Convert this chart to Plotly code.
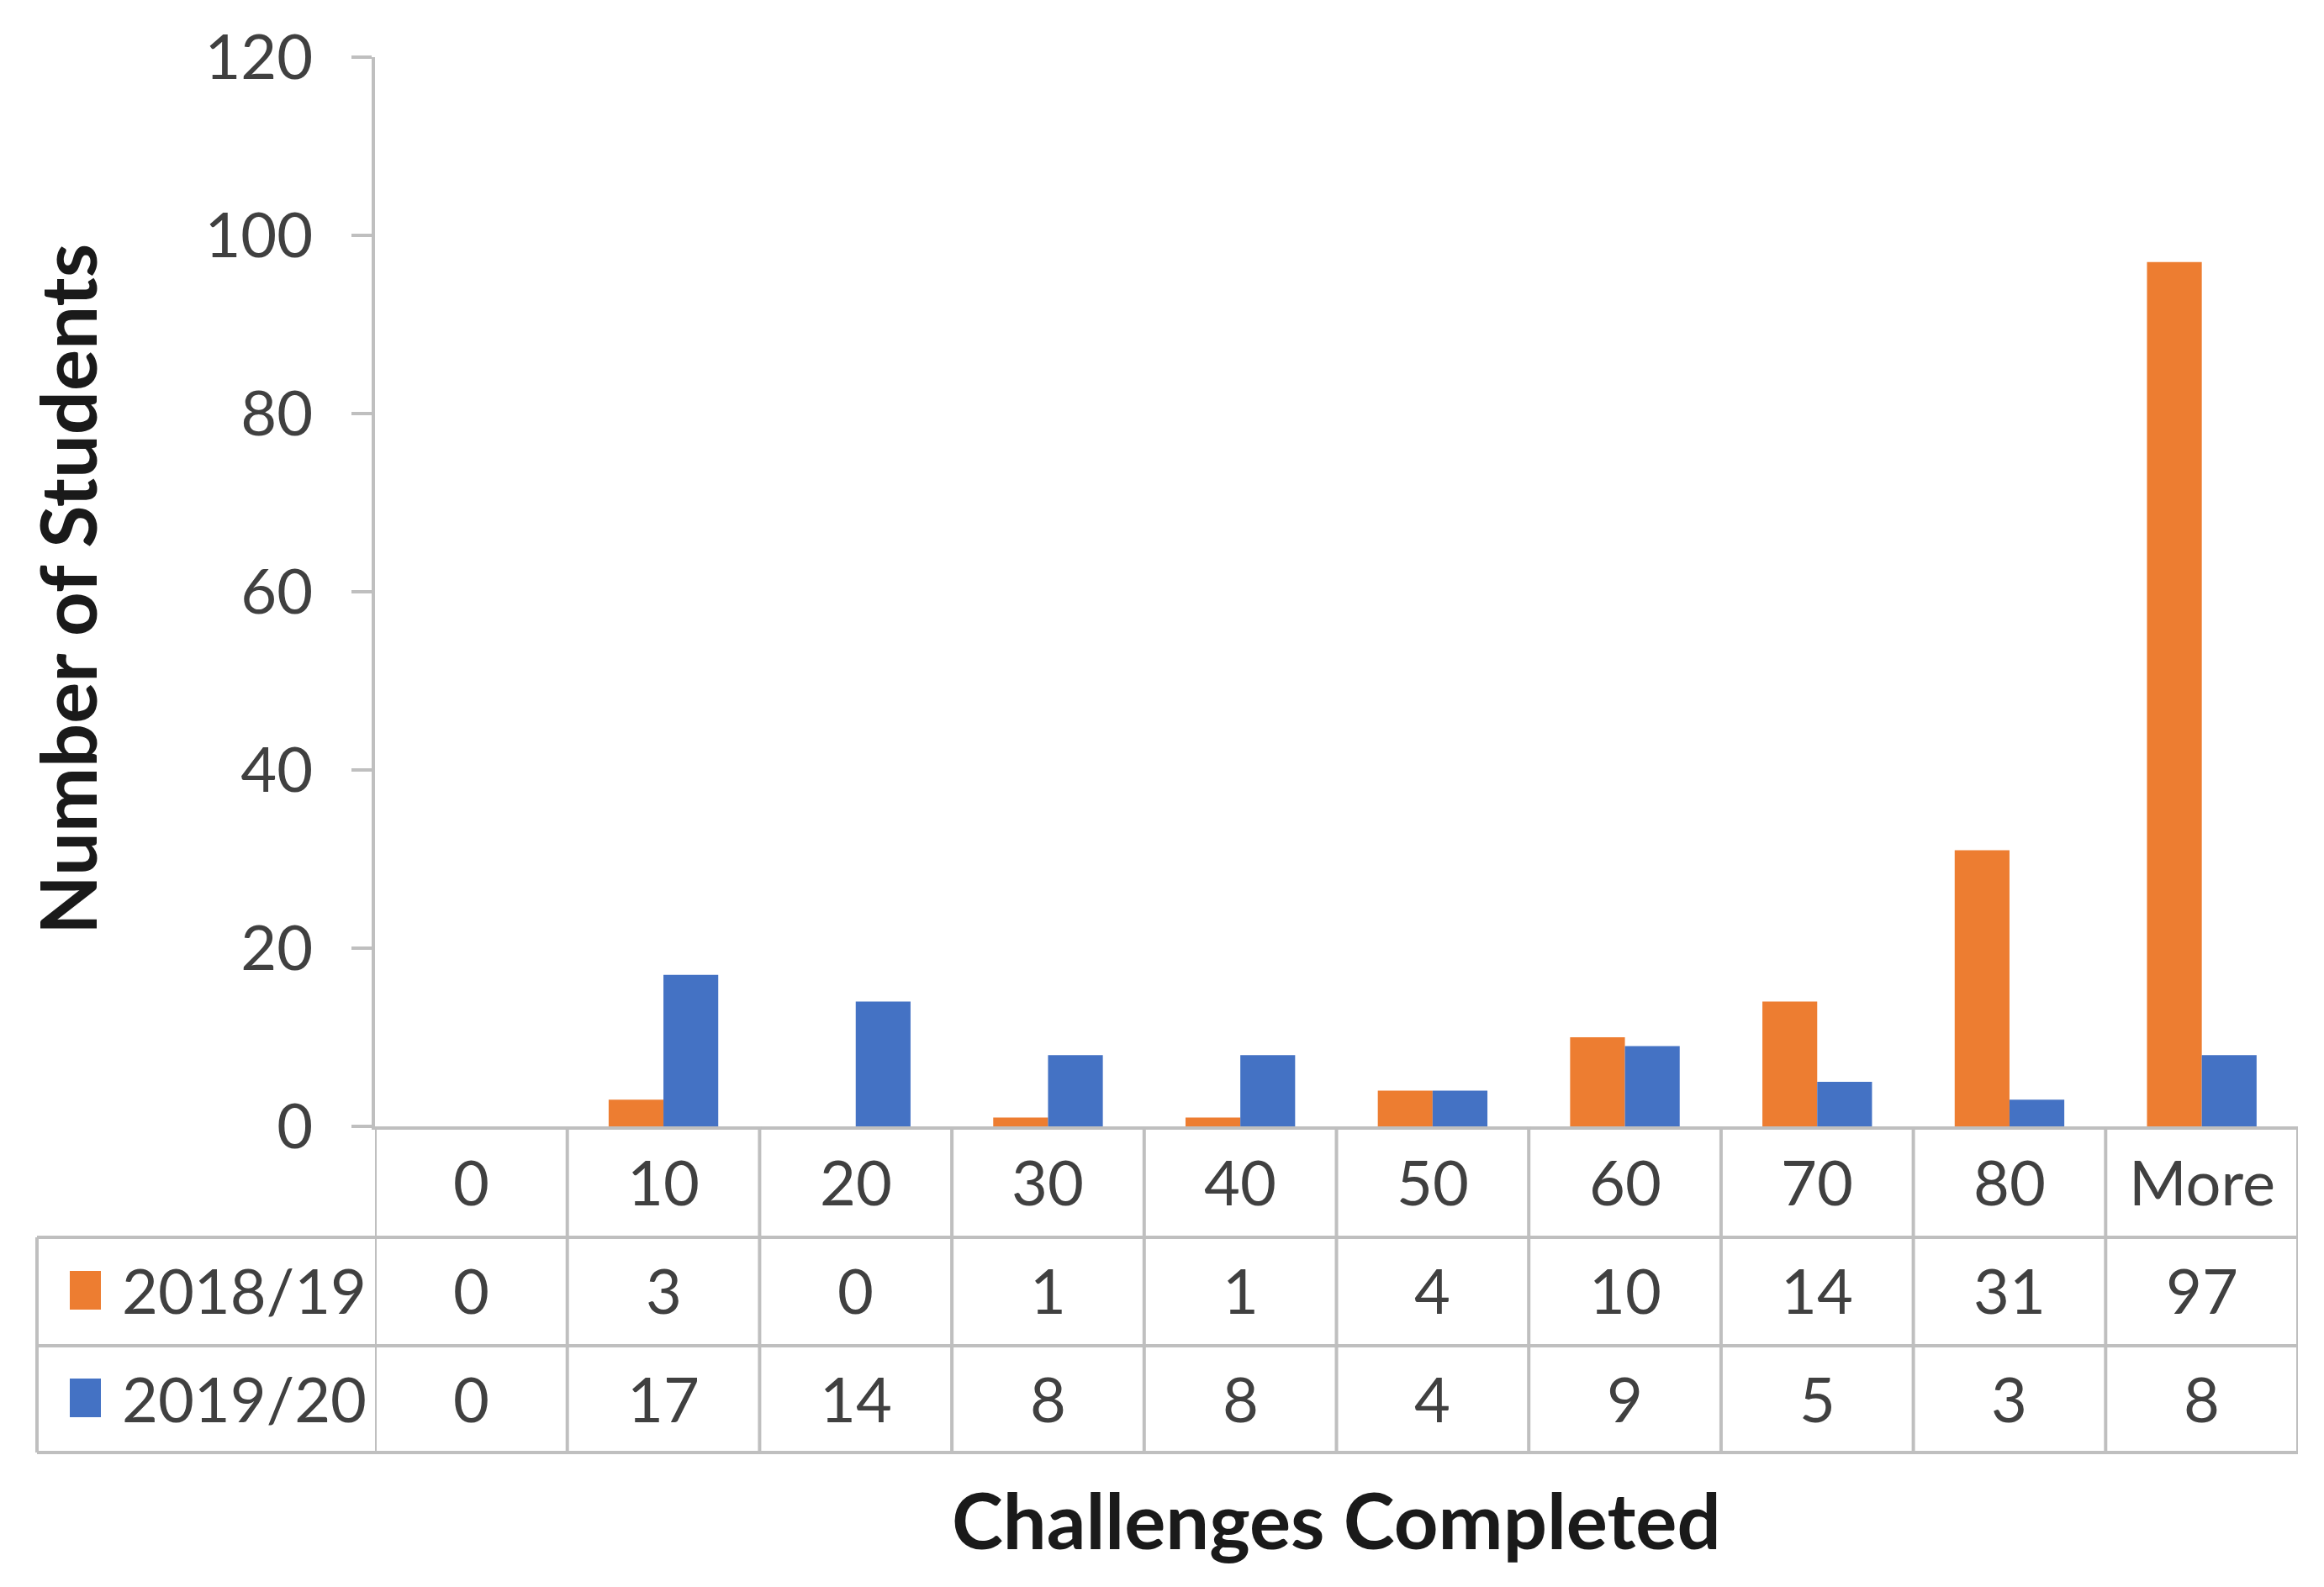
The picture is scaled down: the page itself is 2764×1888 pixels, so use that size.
import plotly.graph_objects as go

categories = ["0", "10", "20", "30", "40", "50", "60", "70", "80", "More"]
series_names = ["2018/19", "2019/20"]
values_1819 = [0, 3, 0, 1, 1, 4, 10, 14, 31, 97]
values_1920 = [0, 17, 14, 8, 8, 4, 9, 5, 3, 8]
y_ticks = [0, 20, 40, 60, 80, 100, 120]
x_title = "Challenges Completed"
y_title = "Number of Students"

colors = ["#ED7D31", "#4472C4"]
OFF = 8  # default html body margin
W, H = 2764 - 2 * OFF, 1888 - 2 * OFF
L, R, T, B = 446 - OFF, 31 - OFF, 68 - OFF, 548 - OFF
PW, PH = W - L - R, H - T - B
FONT = "Lato"
TXT = "#404040"
GRID = "#BFBFBF"
FS = 74


def py(p):  # absolute page pixel y -> paper y
    return (T + PH - (p - OFF)) / PH


def px(p):  # absolute page pixel x -> paper x
    return ((p - OFF) - L) / PW


fig = go.Figure()
for name, vals, c in zip(series_names, [values_1819, values_1920], colors):
    fig.add_trace(go.Bar(x=categories, y=vals, name=name, marker_color=c,
                         marker_line_width=0, showlegend=False))

# table geometry (absolute pixels)
row_tops = [1340, 1472, 1601]
row_bottom = 1728
table_left = 44
row_centers = [1405, 1535, 1663]

shapes = []
line = dict(color=GRID, width=4)
for i in range(len(categories) + 1):
    shapes.append(dict(type="line", xref="x", yref="paper", x0=i - 0.5, x1=i - 0.5,
                       y0=py(row_tops[0]), y1=py(row_bottom), line=line, layer="above"))
shapes.append(dict(type="line", xref="paper", yref="paper", x0=px(table_left), x1=px(table_left),
                   y0=py(row_tops[1]), y1=py(row_bottom), line=line))
for yy in row_tops[1:] + [row_bottom]:
    shapes.append(dict(type="line", xref="paper", yref="paper", x0=px(table_left), x1=1,
                       y0=py(yy), y1=py(yy), line=line))
for k, c in enumerate(colors):
    yc = row_centers[k + 1]
    shapes.append(dict(type="rect", xref="paper", yref="paper", x0=px(83), x1=px(120),
                       y0=py(yc - 23), y1=py(yc + 23), fillcolor=c, line_width=0))

ann = []
for i, c in enumerate(categories):
    ann.append(dict(x=i, xref="x", y=py(row_centers[0]), yref="paper", text=c, showarrow=False,
                    font=dict(family=FONT, size=FS, color=TXT), xanchor="center", yanchor="middle"))
for k, vals in enumerate([values_1819, values_1920]):
    yc = py(row_centers[k + 1])
    ann.append(dict(x=px(143), xref="paper", y=yc, yref="paper", text=series_names[k], showarrow=False,
                    font=dict(family=FONT, size=FS, color=TXT), xanchor="left", yanchor="middle"))
    for i, v in enumerate(vals):
        ann.append(dict(x=i, xref="x", y=yc, yref="paper", text=str(v), showarrow=False,
                        font=dict(family=FONT, size=FS, color=TXT), xanchor="center", yanchor="middle"))

ann.append(dict(x=0.5, xref="paper", y=py(1807), yref="paper", text=x_title, showarrow=False,
                font=dict(family=FONT, size=92, color="#1a1a1a", weight="bold"),
                xanchor="center", yanchor="middle"))
ann.append(dict(x=px(79), xref="paper", y=py(701), yref="paper", text=y_title, showarrow=False,
                textangle=-90, font=dict(family=FONT, size=92, color="#1a1a1a", weight="bold"),
                xanchor="center", yanchor="middle"))

fig.update_layout(
    width=W, height=H,
    margin=dict(l=L, r=R, t=T, b=B, pad=0),
    paper_bgcolor="white", plot_bgcolor="white",
    barmode="group", bargap=0.43, bargroupgap=0,
    shapes=shapes, annotations=ann,
    font=dict(family=FONT, color=TXT),
)
fig.update_xaxes(type="category", range=[-0.5, len(categories) - 0.5], showticklabels=False,
                 showgrid=False, zeroline=False, showline=True, linecolor=GRID, linewidth=4,
                 ticks="")
fig.update_yaxes(range=[0, 120], tickvals=y_ticks, showgrid=False, zeroline=False,
                 showline=True, linecolor=GRID, linewidth=4, ticks="outside", ticklen=24,
                 tickwidth=4, tickcolor=GRID, tickfont=dict(family=FONT, size=FS, color=TXT),
                 ticklabelstandoff=31)

fig.write_html("out.html")
